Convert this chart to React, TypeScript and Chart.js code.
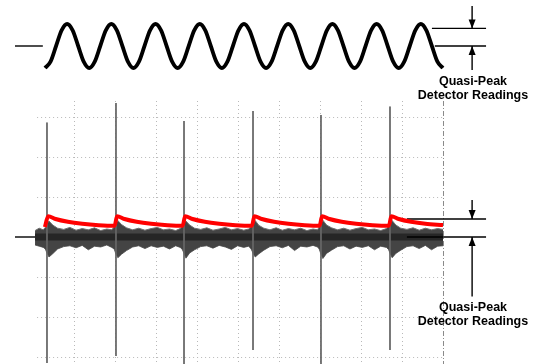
import React, { useEffect, useRef } from "react";
import { Chart, registerables } from "chart.js";

Chart.register(...registerables);

// ---------- graticule (time axis: 10 units per division, amplitude: 10 units per division) ----------
const GRID_X = [10, 20, 30, 40, 50, 60, 70, 80, 90];
const GRID_Y = [30, 20, 10, -10, -20, -30];
const GRID_END_X = 100;
const GRID_LEFT = 1;
const GRID_TOP = 34;
const GRID_BOTTOM = -32;

// ---------- top panel: sine carrier (normalised amplitude) ----------
const SINE_START = 2.93;
const SINE_STEP = 1.348;
const SINE_Y = [
  -1, -0.71, 0, 0.71, 1, 0.71, 0, -0.71,
  -1, -0.71, 0, 0.71, 1, 0.71, 0, -0.71,
  -1, -0.71, 0, 0.71, 1, 0.71, 0, -0.71,
  -1, -0.71, 0, 0.71, 1, 0.71, 0, -0.71,
  -1, -0.71, 0, 0.71, 1, 0.71, 0, -0.71,
  -1, -0.71, 0, 0.71, 1, 0.71, 0, -0.71,
  -1, -0.71, 0, 0.71, 1, 0.71, 0, -0.71,
  -1, -0.71, 0, 0.71, 1, 0.71, 0, -0.71,
  -1, -0.71, 0, 0.71, 1, 0.71, 0, -0.71,
  -1,
];
const SINE_BASE_X = [-4.4, 2.4];
const SINE_BASE_Y = [0, 0];
const SINE_QP_LEVEL = 0.8;
const SINE_REF_LEVEL = 0;

// ---------- bottom panel: impulsive noise ----------
const NOISE_X = [
  0.5, 1.5, 2.5, 3.0, 3.4, 3.9, 4.8, 6.0, 7.5, 9.0, 10.5, 12.0, 13.5, 15.0, 16.5, 18.0,
  19.2, 19.8, 20.2, 20.7, 21.6, 22.8, 24.3, 25.8, 27.3, 28.8, 30.3, 31.8, 33.3, 34.8,
  35.9, 36.4, 36.8, 37.3, 38.2, 39.4, 40.9, 42.4, 43.9, 45.4, 46.9, 48.4, 49.9, 51.4,
  52.6, 53.2, 53.7, 54.2, 55.1, 56.3, 57.8, 59.3, 60.8, 62.3, 63.8, 65.3, 66.8, 68.3,
  69.4, 69.8, 70.2, 70.7, 71.6, 72.8, 74.3, 75.8, 77.3, 78.8, 80.3, 81.8, 83.3, 84.8,
  86.2, 86.7, 87.1, 87.6, 88.5, 89.7, 91.2, 92.7, 94.2, 95.7, 97.2, 98.7, 100.0,
];
const NOISE_HI = [
  1.6, 2.2, 1.8, 2.4, 3.3, 4.0, 3.0, 2.2, 1.9, 2.4, 1.7, 2.1, 1.8, 2.3, 1.6, 2.0,
  1.8, 2.5, 3.4, 4.1, 3.1, 2.3, 1.8, 2.2, 1.7, 2.1, 2.4, 1.8, 2.0, 1.6,
  2.1, 2.6, 3.5, 4.0, 3.0, 2.2, 1.9, 2.3, 1.7, 2.0, 2.4, 1.8, 2.1, 1.7,
  2.0, 2.6, 3.4, 4.1, 2.9, 2.2, 1.8, 2.3, 1.7, 2.1, 1.8, 2.2, 1.6, 2.0,
  1.8, 2.5, 3.4, 4.2, 3.0, 2.3, 1.8, 2.2, 1.7, 2.1, 2.4, 1.8, 2.0, 1.6,
  2.1, 2.6, 3.5, 4.1, 3.0, 2.2, 1.9, 2.3, 1.7, 2.2, 1.8, 2.1, 1.9,
];
const NOISE_LO = [
  -2.0, -2.3, -2.6, -3.0, -4.0, -5.0, -4.2, -3.0, -2.4, -2.2, -2.7, -2.1, -3.2, -2.3, -2.5, -2.0,
  -2.6, -3.0, -4.2, -5.2, -4.3, -3.4, -2.5, -2.2, -2.9, -2.2, -2.6, -2.3, -3.0, -2.2,
  -2.6, -3.1, -4.0, -5.3, -4.0, -3.2, -2.4, -2.2, -2.8, -2.1, -2.5, -3.1, -2.2, -2.6,
  -2.3, -3.0, -4.1, -5.0, -4.2, -3.3, -2.4, -2.2, -2.7, -2.1, -3.4, -2.3, -2.5, -2.1,
  -2.5, -3.0, -4.2, -5.4, -4.1, -3.3, -2.4, -2.2, -3.0, -2.3, -2.6, -2.2, -3.2, -2.3,
  -2.6, -3.1, -4.1, -5.2, -4.1, -3.3, -2.4, -2.2, -2.9, -2.1, -3.2, -2.3, -2.2,
];
const CORE_X = [0.5, 100];
const CORE_HI = [0.9, 0.9];
const CORE_LO = [-0.9, -0.9];

const SPIKE_X = [3.41, 20.24, 36.83, 53.66, 70.24, 87.07];
const SPIKE_TOP = [28.6, 33.5, 29.0, 31.5, 30.5, 32.6];
const SPIKE_BOTTOM = [-31.5, -29.75, -33, -28.25, -33, -28.25];

// quasi-peak detector output (red)
const QP_X = [
  2.9, 3.7, 5.5, 8.5, 12.0, 16.0, 19.9,
  20.5, 22.3, 25.3, 28.8, 32.8, 36.5,
  37.1, 38.9, 41.9, 45.4, 49.4, 53.4,
  54.0, 55.8, 58.8, 62.3, 66.3, 69.9,
  70.5, 72.3, 75.3, 78.8, 82.8, 86.8,
  87.4, 89.2, 92.2, 95.7, 100.0,
];
const QP_Y = [
  2.5, 5.2, 4.5, 3.8, 3.3, 2.95, 2.8,
  5.2, 4.5, 3.8, 3.3, 2.95, 2.8,
  5.2, 4.5, 3.8, 3.3, 2.95, 2.8,
  5.2, 4.5, 3.8, 3.3, 2.95, 2.8,
  5.2, 4.5, 3.8, 3.3, 2.95, 2.8,
  5.2, 4.5, 3.8, 3.3, 3.0,
];
const SCOPE_BASE_X = [-4.4, 0.5];
const SCOPE_QP_LEVEL = 4.5;
const SCOPE_REF_LEVEL = 0;

// annotation geometry (same units as the data)
const MARK_LINE_X_END = 110.5;
const SINE_QP_LINE_START = 97.3;
const SINE_REF_LINE_START = 98;
const SCOPE_LINE_START = 91.2;
const ARROW_X = 107.1;
const SINE_ARROW_TOP = 1.82;
const SINE_ARROW_BOTTOM = -1.09;
const SCOPE_ARROW_TOP = 9.25;
const SCOPE_ARROW_BOTTOM = -14.9;

const LABEL_LINES = ["Quasi-Peak", "Detector Readings"];

const W = 536;
const H = 364;

const pts = (xs: number[], ys: number[]) => xs.map((x, i) => ({ x, y: ys[i] }));

const scopeGrid = {
  id: "scopeGrid",
  beforeDatasetsDraw(chart: any) {
    const { ctx, scales } = chart;
    const x = scales.x;
    const y = scales.y;
    ctx.save();
    ctx.strokeStyle = "#b9b9b9";
    ctx.lineWidth = 1;
    ctx.setLineDash([1, 3]);
    const top = y.getPixelForValue(GRID_TOP);
    const bottom = y.getPixelForValue(GRID_BOTTOM);
    GRID_X.forEach((gx) => {
      const px = Math.round(x.getPixelForValue(gx)) + 0.5;
      ctx.beginPath();
      ctx.moveTo(px, top);
      ctx.lineTo(px, bottom);
      ctx.stroke();
    });
    const left = x.getPixelForValue(GRID_LEFT);
    const right = x.getPixelForValue(GRID_END_X);
    GRID_Y.forEach((gy) => {
      const py = Math.round(y.getPixelForValue(gy)) + 0.5;
      ctx.beginPath();
      ctx.moveTo(left, py);
      ctx.lineTo(right, py);
      ctx.stroke();
    });
    ctx.strokeStyle = "#8a8a8a";
    ctx.setLineDash([5, 2, 1, 2]);
    const ex = Math.round(x.getPixelForValue(GRID_END_X)) + 0.5;
    ctx.beginPath();
    ctx.moveTo(ex, top);
    ctx.lineTo(ex, bottom);
    ctx.stroke();
    ctx.restore();
  },
};

const arrowHeads = {
  id: "arrowHeads",
  afterDatasetsDraw(chart: any) {
    const ctx = chart.ctx;
    chart.data.datasets.forEach((ds: any, i: number) => {
      if (!ds.arrow) return;
      const p = chart.getDatasetMeta(i).data;
      const a = p[p.length - 2];
      const b = p[p.length - 1];
      const ang = Math.atan2(b.y - a.y, b.x - a.x);
      const L = 9;
      const Wd = 3.5;
      const c = Math.cos(ang);
      const s = Math.sin(ang);
      ctx.save();
      ctx.fillStyle = "#000";
      ctx.beginPath();
      ctx.moveTo(b.x, b.y);
      ctx.lineTo(b.x - L * c + Wd * s, b.y - L * s - Wd * c);
      ctx.lineTo(b.x - L * c - Wd * s, b.y - L * s + Wd * c);
      ctx.closePath();
      ctx.fill();
      ctx.restore();
    });
  },
};

export default function App() {
  const ref = useRef<HTMLCanvasElement | null>(null);

  useEffect(() => {
    if (!ref.current) return;
    const black = (data: any[], yAxisID: string, extra: any = {}) => ({
      data,
      yAxisID,
      borderColor: "#000",
      borderWidth: 1.4,
      pointRadius: 0,
      fill: false,
      order: 1,
      ...extra,
    });

    const spikeData: any[] = [];
    SPIKE_X.forEach((sx, i) => {
      spikeData.push({ x: sx, y: SPIKE_TOP[i] });
      spikeData.push({ x: sx, y: SPIKE_BOTTOM[i] });
      spikeData.push({ x: sx, y: null });
    });

    const datasets: any[] = [
      {
        data: pts(QP_X, QP_Y),
        yAxisID: "y",
        borderColor: "#ff0000",
        borderWidth: 4,
        cubicInterpolationMode: "monotone",
        pointRadius: 0,
        fill: false,
        order: 0,
      },
      black(pts(SCOPE_BASE_X, [SCOPE_REF_LEVEL, SCOPE_REF_LEVEL]), "y"),
      black(pts([SCOPE_LINE_START, MARK_LINE_X_END], [SCOPE_QP_LEVEL, SCOPE_QP_LEVEL]), "y"),
      black(pts([SCOPE_LINE_START, MARK_LINE_X_END], [SCOPE_REF_LEVEL, SCOPE_REF_LEVEL]), "y"),
      black(pts([ARROW_X, ARROW_X], [SCOPE_ARROW_TOP, SCOPE_QP_LEVEL]), "y", { arrow: true }),
      black(pts([ARROW_X, ARROW_X], [SCOPE_ARROW_BOTTOM, SCOPE_REF_LEVEL]), "y", { arrow: true }),
      black(pts(SINE_BASE_X, SINE_BASE_Y), "y2"),
      black(pts([SINE_QP_LINE_START, MARK_LINE_X_END], [SINE_QP_LEVEL, SINE_QP_LEVEL]), "y2"),
      black(pts([SINE_REF_LINE_START, MARK_LINE_X_END], [SINE_REF_LEVEL, SINE_REF_LEVEL]), "y2"),
      black(pts([ARROW_X, ARROW_X], [SINE_ARROW_TOP, SINE_QP_LEVEL]), "y2", { arrow: true }),
      black(pts([ARROW_X, ARROW_X], [SINE_ARROW_BOTTOM, SINE_REF_LEVEL]), "y2", { arrow: true }),
      {
        data: SINE_Y.map((v, i) => ({ x: SINE_START + i * SINE_STEP, y: v })),
        yAxisID: "y2",
        borderColor: "#000",
        borderWidth: 3.8,
        cubicInterpolationMode: "monotone",
        pointRadius: 0,
        fill: false,
        order: 2,
      },
      {
        data: spikeData,
        yAxisID: "y",
        borderColor: "#666",
        borderWidth: 1,
        pointRadius: 0,
        spanGaps: false,
        fill: false,
        order: 3,
      },
      {
        data: pts(CORE_X, CORE_HI),
        yAxisID: "y",
        borderColor: "#262626",
        borderWidth: 0,
        backgroundColor: "#262626",
        pointRadius: 0,
        fill: "+1",
        order: 4,
      },
      {
        data: pts(CORE_X, CORE_LO),
        yAxisID: "y",
        borderColor: "#262626",
        borderWidth: 0,
        pointRadius: 0,
        fill: false,
        order: 4,
      },
      {
        data: pts(NOISE_X, NOISE_HI),
        yAxisID: "y",
        borderColor: "#707070",
        borderWidth: 1,
        backgroundColor: "#444",
        pointRadius: 0,
        fill: "+1",
        order: 5,
      },
      {
        data: pts(NOISE_X, NOISE_LO),
        yAxisID: "y",
        borderColor: "#707070",
        borderWidth: 1,
        pointRadius: 0,
        fill: false,
        order: 5,
      },
    ];

    const chart = new Chart(ref.current, {
      type: "line",
      data: { datasets },
      options: {
        animation: false,
        responsive: false,
        events: [],
        layout: { padding: 0 },
        plugins: { legend: { display: false }, tooltip: { enabled: false } },
        scales: {
          x: { type: "linear", min: -33 / 4.1, max: (W - 33) / 4.1, display: false },
          y: { type: "linear", min: (237 - H) / 4, max: 237 / 4, display: false },
          y2: { type: "linear", min: (46 - H) / 22, max: 46 / 22, display: false },
        },
      },
      plugins: [scopeGrid, arrowHeads],
    } as any);
    return () => chart.destroy();
  }, []);

  const labelStyle: React.CSSProperties = {
    position: "absolute",
    left: 412,
    width: 122,
    textAlign: "center",
    fontFamily: "'Liberation Sans', Arial, sans-serif",
    fontWeight: "bold",
    fontSize: 12.5,
    lineHeight: "14px",
    color: "#000",
    whiteSpace: "nowrap",
  };

  return (
    <div style={{ position: "fixed", left: 0, top: 0, width: W, height: H, background: "#fff" }}>
      <canvas ref={ref} width={W} height={H} style={{ position: "absolute", left: 0, top: 0 }} />
      <div style={{ ...labelStyle, top: 73.5 }}>
        {LABEL_LINES.map((t) => (
          <div key={t}>{t}</div>
        ))}
      </div>
      <div style={{ ...labelStyle, top: 299.5 }}>
        {LABEL_LINES.map((t) => (
          <div key={t}>{t}</div>
        ))}
      </div>
    </div>
  );
}
